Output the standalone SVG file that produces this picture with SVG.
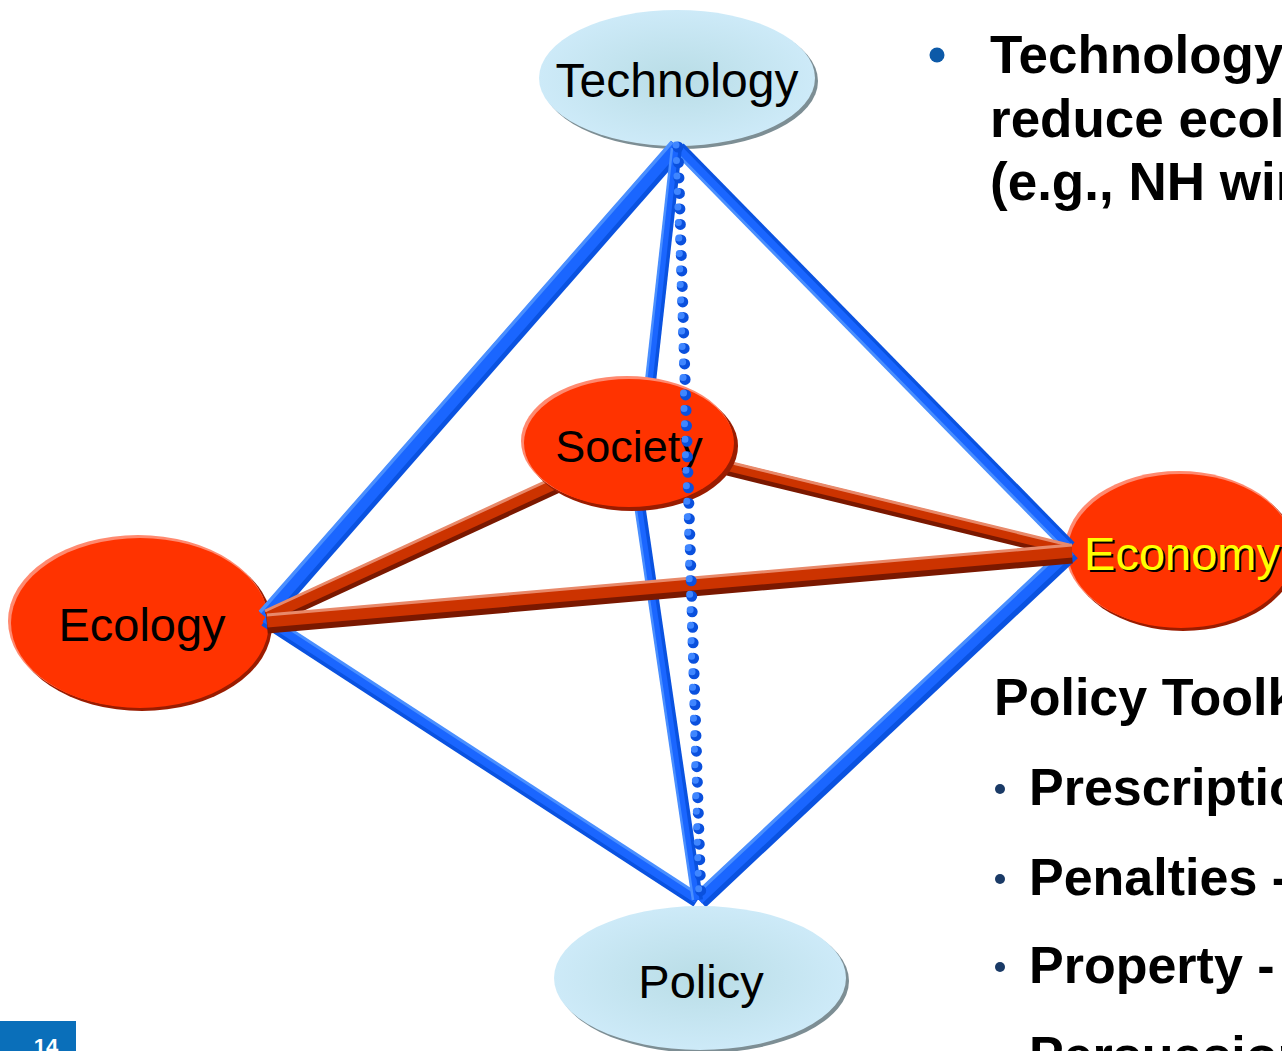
<svg xmlns="http://www.w3.org/2000/svg" width="1282" height="1051" viewBox="0 0 1282 1051">
<defs>
<radialGradient id="lb" cx="50%" cy="50%" r="50%">
<stop offset="0" stop-color="#b9dde6"/>
<stop offset="1" stop-color="#cdeaf8"/>
</radialGradient>
<style>
.lbl{font-family:"Liberation Sans",Arial,sans-serif;font-size:47px;fill:#000;text-anchor:middle}
.bt{font-family:"Liberation Sans",Arial,sans-serif;font-weight:bold;font-size:53px;fill:#000}
.bl{stroke:#0a52e0;fill:none}
.bm{stroke:#1a66ff;fill:none}
.bh{stroke:#4a8fff;fill:none}
.rd{stroke:#cc3300;fill:none}
.rdk{stroke:#7a1800;fill:none}
.rh{stroke:#e8896a;fill:none}
.lbshadow{fill:#7d8e94}
.redshadow{fill:#9a1c00}
.redhi{fill:#ff8a70}
.red{fill:#ff3300}
</style>
</defs>
<rect width="1282" height="1051" fill="#fff"/>

<g id="ecology">
<ellipse cx="142" cy="625" rx="130" ry="86" class="redshadow"/>
<ellipse cx="138" cy="621" rx="130" ry="86" class="redhi"/>
<ellipse cx="140" cy="623" rx="129" ry="85" class="red"/>
<text x="142" y="641" class="lbl">Ecology</text>
</g>

<g id="economy">
<ellipse cx="1183" cy="553" rx="114" ry="78" class="redshadow"/>
<ellipse cx="1179" cy="549" rx="114" ry="78" class="redhi"/>
<ellipse cx="1181" cy="551" rx="113" ry="77" class="red"/>
<text x="1184" y="572" class="lbl" style="fill:#000">Economy</text>
<text x="1182" y="570" class="lbl" style="fill:#ffff00">Economy</text>
</g>

<g id="technology">
<ellipse cx="680" cy="81" rx="138" ry="68" class="lbshadow"/>
<ellipse cx="677" cy="78" rx="138" ry="68" fill="url(#lb)"/>
<text x="677" y="97" class="lbl" style="font-size:48px">Technology</text>
</g>

<g id="connectors">
<!-- outer blue edges -->
<line x1="678" y1="147" x2="266" y2="617" class="bl" stroke-width="18"/>
<line x1="676" y1="146" x2="264" y2="616" class="bm" stroke-width="13"/>
<line x1="672" y1="142" x2="260" y2="612" class="bh" stroke-width="3.5"/>
<line x1="679" y1="148" x2="1070" y2="547" class="bl" stroke-width="13"/>
<line x1="678" y1="149" x2="1069" y2="548" class="bm" stroke-width="9"/>
<line x1="675" y1="152" x2="1066" y2="551" class="bh" stroke-width="3"/>
<line x1="265" y1="620" x2="697" y2="901" class="bl" stroke-width="13"/>
<line x1="265" y1="618" x2="697" y2="899" class="bm" stroke-width="9"/>
<line x1="267" y1="614" x2="699" y2="895" class="bh" stroke-width="3"/>
<line x1="1072" y1="552" x2="700" y2="901" class="bl" stroke-width="17"/>
<line x1="1070" y1="550" x2="698" y2="899" class="bm" stroke-width="12"/>
<line x1="1066" y1="547" x2="694" y2="896" class="bh" stroke-width="3.5"/>
<!-- inner blue edges to Society -->
<line x1="677" y1="148" x2="649" y2="400" class="bl" stroke-width="10"/>
<line x1="675" y1="148" x2="647" y2="400" class="bm" stroke-width="7"/>
<line x1="672" y1="148" x2="644" y2="400" class="bh" stroke-width="2.5"/>
<line x1="638" y1="490" x2="698" y2="900" class="bl" stroke-width="10"/>
<line x1="636" y1="490" x2="696" y2="900" class="bm" stroke-width="7"/>
<line x1="633" y1="490" x2="693" y2="900" class="bh" stroke-width="2.5"/>
<!-- red edges to Society -->
<line x1="268" y1="619" x2="565" y2="482" class="rdk" stroke-width="15"/>
<line x1="267" y1="616" x2="564" y2="479" class="rd" stroke-width="12"/>
<line x1="265" y1="611" x2="562" y2="474" class="rh" stroke-width="3"/>
<line x1="715" y1="466" x2="1068" y2="552" class="rdk" stroke-width="13"/>
<line x1="715" y1="463" x2="1068" y2="549" class="rd" stroke-width="10"/>
<line x1="716" y1="459" x2="1069" y2="545" class="rh" stroke-width="3"/>
</g>

<g id="society">
<ellipse cx="632" cy="446" rx="106" ry="65" class="redshadow"/>
<ellipse cx="627" cy="441" rx="106" ry="65" class="redhi"/>
<ellipse cx="629" cy="443" rx="105" ry="64" class="red"/>
<text x="629" y="462" class="lbl" style="font-size:45px">Society</text>
</g>

<g id="connectors-front">
<!-- red Ecology-Economy -->
<line x1="267" y1="625" x2="1072" y2="555" class="rdk" stroke-width="17"/>
<line x1="267" y1="621" x2="1072" y2="551" class="rd" stroke-width="13"/>
<line x1="267" y1="615" x2="1072" y2="545" class="rh" stroke-width="3"/>
<!-- dotted Technology-Policy -->
<line x1="678" y1="147" x2="701" y2="901" stroke="#0a50dd" stroke-width="11" stroke-linecap="round" stroke-dasharray="0 15.5" fill="none"/>
<line x1="676" y1="145" x2="699" y2="899" stroke="#3f86ff" stroke-width="7" stroke-linecap="round" stroke-dasharray="0 15.5" fill="none"/>
</g>

<g id="policy">
<ellipse cx="703" cy="981" rx="146" ry="72" class="lbshadow"/>
<ellipse cx="700" cy="978" rx="146" ry="72" fill="url(#lb)"/>
<text x="701" y="998" class="lbl">Policy</text>
</g>

<g id="text-right">
<circle cx="937" cy="55" r="7.5" fill="#0d5aa8"/>
<text x="990" y="73" class="bt">Technology</text>
<text x="990" y="137" class="bt">reduce ecol</text>
<text x="990" y="200" class="bt">(e.g., NH win</text>
<text x="994" y="715" class="bt" style="font-size:52px">Policy Toolk</text>
<circle cx="1000" cy="789" r="5" fill="#1a3a66"/>
<text x="1029" y="805" class="bt" style="font-size:52px">Prescription</text>
<circle cx="1000" cy="879" r="5" fill="#1a3a66"/>
<text x="1029" y="895" class="bt" style="font-size:52px">Penalties -</text>
<circle cx="1000" cy="967" r="5" fill="#1a3a66"/>
<text x="1029" y="983" class="bt" style="font-size:52px">Property -</text>
<circle cx="1000" cy="1057" r="5" fill="#1a3a66"/>
<text x="1029" y="1073" class="bt" style="font-size:52px">Persuasion</text>
</g>

<g id="page-number">
<rect x="0" y="1021" width="76" height="30" fill="#0a6fba"/>
<text x="46" y="1054" style="font-family:'Liberation Sans',Arial,sans-serif;font-weight:bold;font-size:22px;fill:#fff;text-anchor:middle">14</text>
</g>
</svg>
